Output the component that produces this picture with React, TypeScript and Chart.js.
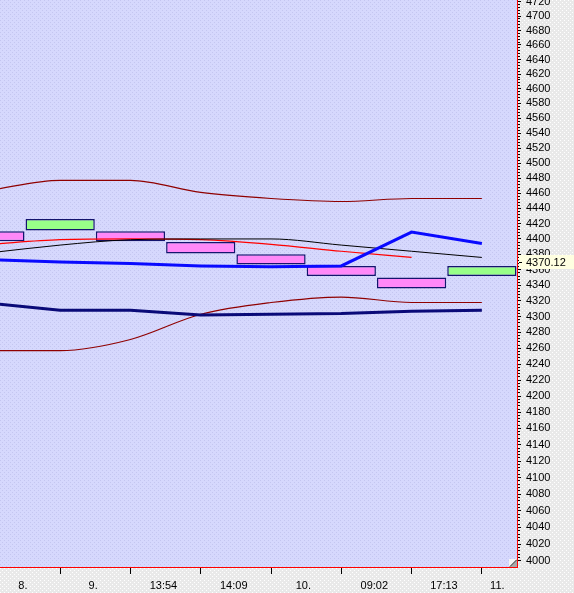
import { useEffect, useRef } from 'react';
import { Chart, registerables } from 'chart.js';

Chart.register(...registerables);

// ---- data (period index 0..7, one box per period) ----
const periods = [0, 1, 2, 3, 4, 5, 6, 7];
const boxLow = [4397, 4411, 4397, 4381, 4367, 4352, 4336, 4352];
const boxHigh = [4410, 4426, 4410, 4396, 4380, 4365, 4350, 4365];
const boxUp = [false, true, false, false, false, false, false, true];
const upperBand = [4464, 4477, 4477, 4461, 4453, 4449, 4453, 4453];
const lowerBand = [4257, 4257, 4271, 4303, 4318, 4325, 4318, 4318];
const navyLine = [4317, 4308, 4308, 4302, 4303, 4304, 4307, 4308];
const blueLine = [4373, 4370, 4368, 4365, 4364, 4365, 4409, 4394];
const blackLine = [4382, 4392, 4399, 4400, 4400, 4392, 4384, 4376];
const redLine: (number | null)[] = [4393, 4399, 4400, 4399, 4393, 4384, 4376, null];

const xLabels = ['8.', '9.', '13:54', '14:09', '10.', '09:02', '17:13', '11.'];
const xLabelPos = [0.47, 1.47, 2.47, 3.47, 4.46, 5.47, 6.46, 7.22];
const xTickPos = [1, 2, 3, 4, 5, 6, 7];

const yMajorTicks = [
  4000, 4020, 4040, 4060, 4080, 4100, 4120, 4140, 4160, 4180, 4200, 4220, 4240,
  4260, 4280, 4300, 4320, 4340, 4360, 4380, 4400, 4420, 4440, 4460, 4480, 4500,
  4520, 4540, 4560, 4580, 4600, 4620, 4640, 4660, 4680, 4700, 4720,
];
const yMinorStep = 4;
const lastValue = 4370.12;

const xMin = 0.144;
const xMax = 7.5;
const yMin = 3992.9;
const yMax = 4722.4;

const FONT = '"Liberation Sans", Arial, sans-serif';

function makePattern(bg: string, dot: string): CanvasPattern | string {
  const c = document.createElement('canvas');
  c.width = 4;
  c.height = 4;
  const g = c.getContext('2d');
  if (!g) return bg;
  g.fillStyle = bg;
  g.fillRect(0, 0, 4, 4);
  g.fillStyle = dot;
  g.fillRect(0, 0, 1, 1);
  g.fillRect(2, 2, 1, 1);
  const p = g.createPattern(c, 'repeat');
  return p || bg;
}

const noPad = (s: any) => {
  s.paddingTop = 0;
  s.paddingBottom = 0;
  s.paddingLeft = 0;
  s.paddingRight = 0;
};

export default function App() {
  const ref = useRef<HTMLCanvasElement | null>(null);

  useEffect(() => {
    const canvas = ref.current;
    if (!canvas) return;

    const plotBg = makePattern('#d6d8fd', '#c4c6f0');
    const axisBg = makePattern('#e9e9e9', '#ffffff');

    const bgPlugin = {
      id: 'bgPlugin',
      beforeDraw(chart: any) {
        const { ctx, chartArea } = chart;
        ctx.save();
        ctx.fillStyle = axisBg;
        ctx.fillRect(0, 0, chart.width, chart.height);
        ctx.fillStyle = plotBg;
        ctx.fillRect(chartArea.left, chartArea.top, chartArea.right - chartArea.left, chartArea.bottom - chartArea.top);
        ctx.restore();
      },
      afterDraw(chart: any) {
        const { ctx, chartArea } = chart;
        const ys = chart.scales.y;
        const py = Math.round(ys.getPixelForValue(lastValue));
        ctx.save();
        // last value tag
        ctx.fillStyle = '#ffffe1';
        ctx.fillRect(ys.left + 2, py - 7, chart.width - ys.left - 2, 14);
        ctx.fillStyle = '#000';
        ctx.fillRect(ys.left + 2, py, 3, 1);
        ctx.font = '11px ' + FONT;
        ctx.textBaseline = 'middle';
        ctx.textAlign = 'left';
        ctx.fillText(lastValue.toFixed(2), ys.left + 9, py + 0.5);
        // resize grip in the plot corner
        const gx = Math.round(chartArea.right) - 8;
        const gy = Math.round(chartArea.bottom) - 8;
        ctx.fillStyle = '#f4f4f4';
        ctx.fillRect(gx, gy, 8, 8);
        ctx.fillStyle = '#a8a8a8';
        ctx.beginPath();
        ctx.moveTo(gx + 8, gy);
        ctx.lineTo(gx + 8, gy + 8);
        ctx.lineTo(gx, gy + 8);
        ctx.closePath();
        ctx.fill();
        ctx.strokeStyle = '#404040';
        ctx.lineWidth = 1;
        ctx.beginPath();
        ctx.moveTo(gx + 1, gy + 7.5);
        ctx.lineTo(gx + 7.5, gy + 1);
        ctx.stroke();
        ctx.restore();
      },
    };

    const pts = (arr: (number | null)[]) => periods.map((i) => ({ x: i, y: arr[i] }));

    const isLabelPos = (v: number) => xLabelPos.some((p) => Math.abs(p - v) < 1e-6);

    const minorTicks: number[] = [];
    for (let v = yMajorTicks[0]; v <= yMajorTicks[yMajorTicks.length - 1]; v += yMinorStep) minorTicks.push(v);

    const chart = new Chart(canvas, {
      type: 'bar',
      data: {
        datasets: [
          {
            type: 'line',
            data: pts(upperBand),
            borderColor: '#8f0000',
            borderWidth: 1.2,
            pointRadius: 0,
            cubicInterpolationMode: 'monotone',
            order: 1,
          },
          {
            type: 'line',
            data: pts(lowerBand),
            borderColor: '#8f0000',
            borderWidth: 1.2,
            pointRadius: 0,
            cubicInterpolationMode: 'monotone',
            order: 1,
          },
          {
            type: 'line',
            data: pts(blackLine),
            borderColor: '#000000',
            borderWidth: 1,
            pointRadius: 0,
            cubicInterpolationMode: 'monotone',
            order: 1,
          },
          {
            type: 'line',
            data: pts(redLine),
            borderColor: '#ff0000',
            borderWidth: 1.2,
            pointRadius: 0,
            cubicInterpolationMode: 'monotone',
            order: 1,
          },
          {
            type: 'line',
            data: pts(navyLine),
            borderColor: '#0a0a78',
            borderWidth: 3,
            pointRadius: 0,
            tension: 0,
            order: 0,
          },
          {
            type: 'line',
            data: pts(blueLine),
            borderColor: '#0a0aff',
            borderWidth: 3,
            pointRadius: 0,
            tension: 0,
            order: 0,
          },
          {
            type: 'bar',
            data: periods.map((i) => ({ x: i, y: [boxLow[i], boxHigh[i]] })) as any,
            backgroundColor: periods.map((i) => (boxUp[i] ? '#98ff88' : '#ff88f8')),
            borderColor: '#14146e',
            borderWidth: 1.5,
            borderSkipped: false,
            barPercentage: 0.985,
            categoryPercentage: 1,
            order: 10,
          },
        ] as any,
      },
      options: {
        animation: false,
        responsive: false,
        maintainAspectRatio: false,
        events: [],
        layout: { padding: 0 },
        plugins: { legend: { display: false }, tooltip: { enabled: false }, title: { display: false } },
        scales: {
          x: {
            type: 'linear',
            min: xMin,
            max: xMax,
            bounds: 'data',
            offset: false,
            display: false,
            afterBuildTicks: (axis: any) => {
              axis.ticks = periods.map((v) => ({ value: v }));
            },
          },
          xl: {
            type: 'linear',
            position: 'bottom',
            min: xMin,
            max: xMax,
            bounds: 'data',
            offset: false,
            afterBuildTicks: (axis: any) => {
              const all = [...xLabelPos, ...xTickPos].sort((a, b) => a - b);
              axis.ticks = all.map((v) => ({ value: v }));
            },
            afterFit: (s: any) => {
              s.height = 26;
              noPad(s);
            },
            border: { display: true, color: '#ff0000', width: 1 },
            grid: {
              offset: false,
              drawOnChartArea: false,
              drawTicks: true,
              tickLength: 7,
              tickWidth: 1,
              tickColor: (ctx: any) => (ctx.tick && isLabelPos(ctx.tick.value) ? 'rgba(0,0,0,0)' : '#000000'),
            },
            ticks: {
              autoSkip: false,
              maxRotation: 0,
              minRotation: 0,
              padding: 5,
              color: '#000000',
              font: { family: FONT, size: 11 },
              callback: (v: any) => {
                const idx = xLabelPos.findIndex((p) => Math.abs(p - Number(v)) < 1e-6);
                return idx >= 0 ? xLabels[idx] : '';
              },
            },
          },
          ym: {
            type: 'logarithmic',
            position: 'right',
            min: yMin,
            max: yMax,
            bounds: 'data',
            offset: false,
            weight: 0,
            afterBuildTicks: (axis: any) => {
              axis.ticks = minorTicks.map((v) => ({ value: v }));
            },
            afterFit: (s: any) => {
              s.width = 0;
              noPad(s);
            },
            border: { display: false },
            grid: { drawOnChartArea: false, drawTicks: true, tickLength: 3, tickColor: '#000000' },
            ticks: { display: false, autoSkip: false },
          },
          y: {
            type: 'logarithmic',
            position: 'right',
            min: yMin,
            max: yMax,
            bounds: 'data',
            offset: false,
            weight: 1,
            afterBuildTicks: (axis: any) => {
              axis.ticks = yMajorTicks.map((v) => ({ value: v }));
            },
            afterFit: (s: any) => {
              s.width = 57;
              noPad(s);
            },
            border: { display: true, color: '#ff0000', width: 1 },
            grid: { drawOnChartArea: false, drawTicks: true, tickLength: 4, tickColor: '#000000' },
            ticks: {
              autoSkip: false,
              padding: 5,
              color: '#000000',
              font: { family: FONT, size: 11 },
              callback: (v: any) => String(v),
            },
          },
        } as any,
      },
      plugins: [bgPlugin],
    } as any);

    return () => {
      chart.destroy();
    };
  }, []);

  return (
    <div style={{ position: 'fixed', left: 0, top: 0, width: 574, height: 593 }}>
      <canvas ref={ref} width={574} height={593} style={{ display: 'block', width: 574, height: 593 }} />
    </div>
  );
}
